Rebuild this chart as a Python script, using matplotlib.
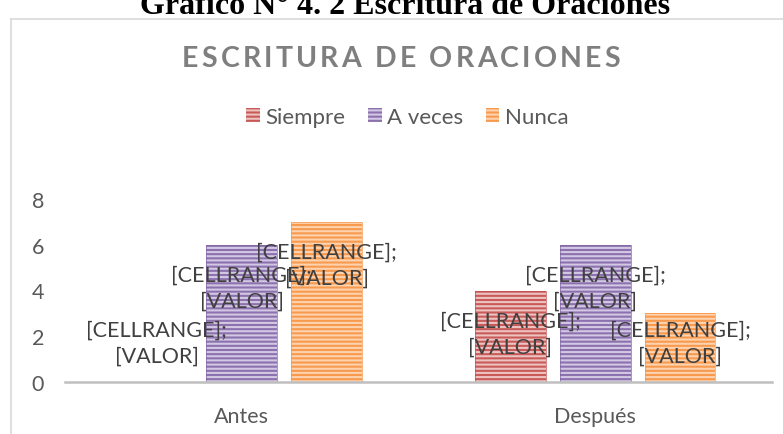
import matplotlib
matplotlib.use("Agg")
import matplotlib.pyplot as plt
import numpy as np
from matplotlib.lines import Line2D

# ---- data ----
categories = ["Antes", "Después"]
series_names = ["Siempre", "A veces", "Nunca"]
siempre = [0, 4]
a_veces = [6, 6]
nunca = [7, 3]
yticks = [0, 2, 4, 6, 8]
chart_title = "ESCRITURA DE ORACIONES"
heading = "Gráfico N° 4. 2 Escritura de Oraciones"
label_text = "[CELLRANGE];\n[VALOR]"

values = [siempre, a_veces, nunca]
base_colors = ["#C85A57", "#8C71AE", "#F89A4E"]
stripe_colors = ["#EDC3C2", "#D3C8E3", "#FDD2AE"]
edge_colors = ["#C0504D", "#8064A2", "#F79646"]

W, H = 783, 435
plt.rcParams["font.family"] = ["Lato", "DejaVu Sans"]
plt.rcParams["hatch.linewidth"] = 1.5

fig = plt.figure(figsize=(W / 100, H / 100), dpi=100)
fig.patch.set_facecolor("white")

ax = fig.add_axes([65 / W, 1 - 383 / H, (772 - 65) / W, (383 - 200) / H])
ax.set_xlim(-0.5, 1.5)
ax.set_ylim(0, 8)

x = np.arange(len(categories))
width = 0.2
offsets = [-0.24, 0.0, 0.24]

handles = []
for i, (vals, name) in enumerate(zip(values, series_names)):
    b = ax.bar(x + offsets[i], vals, width, color=base_colors[i],
               edgecolor=stripe_colors[i], hatch="----", linewidth=0,
               label=name, zorder=2)
    ax.bar(x + offsets[i], vals, width, fill=False,
           edgecolor=edge_colors[i], linewidth=0.6, alpha=0.8, zorder=3)
    handles.append(b)
    for xi, v in zip(x + offsets[i], vals):
        ly = max(v - 1.88, 1.72)
        ax.text(xi, ly, label_text, ha="center", va="center",
                multialignment="center", fontsize=15.5, color="#404040",
                linespacing=1.35, zorder=5)

for s in ["top", "right", "left"]:
    ax.spines[s].set_visible(False)
ax.spines["bottom"].set_color("#BFBFBF")
ax.spines["bottom"].set_linewidth(1.8)
ax.spines["bottom"].set_zorder(4)

ax.set_yticks(yticks)
ax.set_yticklabels([str(t) for t in yticks])
ax.set_xticks(x)
ax.set_xticklabels(categories)
ax.tick_params(axis="y", length=0, pad=15, labelsize=15.5, labelcolor="#595959")
ax.tick_params(axis="x", length=0, pad=17.5, labelsize=15.5, labelcolor="#595959")

# legend
leg = fig.legend(handles=handles, loc="center", bbox_to_anchor=(407.5 / W, 1 - 118 / H),
                 ncol=3, frameon=False, fontsize=16, handlelength=0.62,
                 handleheight=0.62, handletextpad=0.25, columnspacing=1.0,
                 borderpad=0, borderaxespad=0)
for t in leg.get_texts():
    t.set_color("#595959")

# chart border (left and top visible)
top_y = 1 - 19.5 / H
left_x = 10.5 / W
fig.add_artist(Line2D([left_x, left_x], [0, top_y], transform=fig.transFigure,
                      color="#D9D9D9", linewidth=1.2))
fig.add_artist(Line2D([left_x, 1.0], [top_y, top_y], transform=fig.transFigure,
                      color="#D9D9D9", linewidth=1.2))

renderer = fig.canvas.get_renderer()

# heading (cut off at top)
hd = fig.text(405 / W, 1 - 14 / H, heading, ha="center", va="baseline",
              family="Liberation Serif", weight="bold", fontsize=20, color="black")
wpx = hd.get_window_extent(renderer).width
hd.set_fontsize(20 * 530 / wpx)

# letter-spaced chart title
tfs = 20.5
def char_width(c):
    if c == " ":
        a = fig.text(0, 0, "AA", fontsize=tfs, weight="bold")
        b = fig.text(0, 0, "A A", fontsize=tfs, weight="bold")
        w = b.get_window_extent(renderer).width - a.get_window_extent(renderer).width
        a.remove(); b.remove()
        return w
    t = fig.text(0, 0, c, fontsize=tfs, weight="bold")
    w = t.get_window_extent(renderer).width
    t.remove()
    return w

widths = [char_width(c) for c in chart_title]
n = len(chart_title)
target_left, target_right = 182.0, 620.0
track = ((target_right - target_left) - sum(widths)) / (n - 1)
xpos = target_left
for c, w in zip(chart_title, widths):
    if c != " ":
        fig.text(xpos / W, 1 - 67 / H, c, ha="left", va="baseline",
                 fontsize=tfs, weight="bold", color="#7F7F7F")
    xpos += w + track

fig.savefig("out.png", dpi=100)
